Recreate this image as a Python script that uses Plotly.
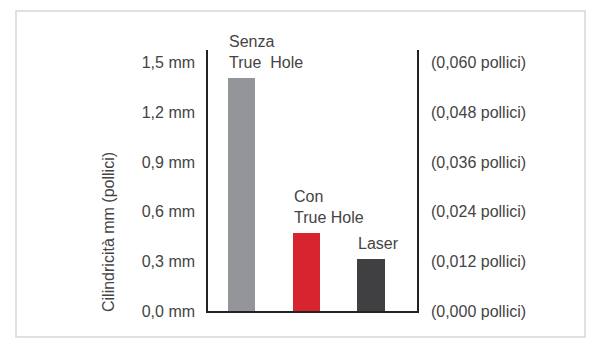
import plotly.graph_objects as go

categories = ["Senza<br>True\u00a0\u00a0Hole", "Con<br>True Hole", "Laser"]
values_mm = [1.405, 0.473, 0.312]
bar_colors = ["#939598", "#d7242f", "#404042"]
tick_vals = [0.0, 0.3, 0.6, 0.9, 1.2, 1.5]
tick_mm = ["0,0 mm", "0,3 mm", "0,6 mm", "0,9 mm", "1,2 mm", "1,5 mm"]
tick_in = ["(0,000 pollici)", "(0,012 pollici)", "(0,024 pollici)",
           "(0,036 pollici)", "(0,048 pollici)", "(0,060 pollici)"]
y_title = "Cilindricità mm (pollici)"

FONT = "Liberation Sans, Arial, sans-serif"
TXT = "#444444"
W, H = 600, 353
L, R, T, B = 208, 183, 50, 42
pw, ph = W - L - R, H - T - B

def px(x):
    return (x - L) / pw

def py(y):
    return (H - B - y) / ph

xs = list(range(len(categories)))
bw = 0.425
yr = [0, 1.577]

fig = go.Figure()
fig.add_trace(go.Bar(x=xs, y=values_mm, width=bw, marker=dict(color=bar_colors, line=dict(width=0)),
                     hoverinfo="skip", showlegend=False))
fig.add_trace(go.Scatter(x=[0], y=[0], yaxis="y2", mode="markers", marker=dict(opacity=0),
                         hoverinfo="skip", showlegend=False))

for i, (c, v) in enumerate(zip(categories, values_mm)):
    fig.add_annotation(x=i - bw / 2, y=v, xref="x", yref="y", text=c, showarrow=False,
                       xanchor="left", yanchor="bottom", align="left", yshift=5, xshift=-1,
                       font=dict(family=FONT, size=16, color=TXT))

fig.add_annotation(x=px(108), y=py(232), xref="paper", yref="paper", text=y_title,
                   showarrow=False, textangle=-90, xanchor="center", yanchor="middle",
                   font=dict(family=FONT, size=16, color=TXT))

fig.add_shape(type="rect", xref="paper", yref="paper", x0=px(16), x1=px(585), y0=py(337), y1=py(11),
              line=dict(color="#d8d8d8", width=1.5), fillcolor="rgba(0,0,0,0)", layer="below")

fig.update_layout(
    width=W, height=H, margin=dict(l=L, r=R, t=T, b=B),
    paper_bgcolor="white", plot_bgcolor="white", bargap=0,
    font=dict(family=FONT, size=16, color=TXT),
    xaxis=dict(range=[-0.52, 2.71], showgrid=False, zeroline=False, showticklabels=False,
               showline=True, linecolor="#222", linewidth=1.5, ticks=""),
    yaxis=dict(range=yr, tickvals=tick_vals, ticktext=tick_mm, showgrid=False, zeroline=False,
               showline=True, linecolor="#222", linewidth=1.5, ticks="", ticklabelstandoff=8,
               tickfont=dict(family=FONT, size=16, color=TXT)),
    yaxis2=dict(range=yr, overlaying="y", side="right", tickvals=tick_vals, ticktext=tick_in,
                showgrid=False, zeroline=False, showline=True, linecolor="#222", linewidth=1.5,
                ticks="", ticklabelstandoff=9, tickfont=dict(family=FONT, size=16, color=TXT)),
)

fig.write_html("out.html")
